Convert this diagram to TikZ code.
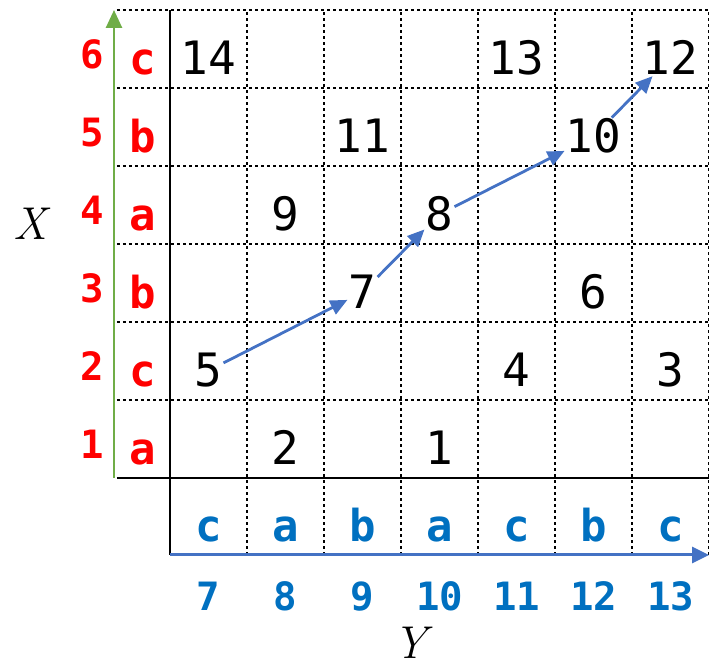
\documentclass[tikz,border=0pt]{standalone}
\usepackage{fontspec}
\usepackage{tikz}
\usetikzlibrary{arrows.meta}
\newfontfamily\gridfont{DejaVu Sans Mono}
\definecolor{axisgreen}{RGB}{112,173,71}
\definecolor{axisblue}{RGB}{68,114,196}
\definecolor{labelblue}{RGB}{0,112,192}

\begin{document}
\begin{tikzpicture}[x=1pt,y=1pt,
  dots/.style={draw=black,line width=2.6pt,dash pattern=on 2.6pt off 3.4pt},
  rule/.style={draw=black,line width=2.4pt},
  num/.style={font=\gridfont\fontsize{46}{46}\selectfont,inner sep=1pt,anchor=base},
  xchar/.style={text=red,font=\gridfont\bfseries\fontsize{44}{44}\selectfont,inner sep=1pt,anchor=base},
  xidx/.style={text=red,font=\gridfont\bfseries\fontsize{39}{39}\selectfont,inner sep=1pt,anchor=base},
  ychar/.style={text=labelblue,font=\gridfont\bfseries\fontsize{44}{44}\selectfont,inner sep=1pt,anchor=base},
  yidx/.style={text=labelblue,font=\gridfont\bfseries\fontsize{39}{39}\selectfont,inner sep=1pt,anchor=base},
  axisname/.style={font=\fontsize{46}{46}\selectfont\itshape,inner sep=1pt,anchor=base},
  hop/.style={draw=axisblue,line width=2.8pt,-{Triangle[length=17pt,width=15pt]}}]
\useasboundingbox (-170,-188) rectangle (539,478);
% grid:
\foreach \k in {1,...,6}
  \path[dots] (-53,78*\k) -- (539,78*\k);
\foreach \k in {1,...,7}
  \path[dots] (77*\k,-77) -- (77*\k,468);
\path[rule] (-53,0) -- (539,0);
\path[rule] (0,-77) -- (0,468);
% axes:
\path[draw=axisgreen,line width=2.6pt,-{Triangle[length=18pt,width=16pt]}] (-56,0) -- (-56,468);
\path[draw=axisblue,line width=3pt,-{Triangle[length=17pt,width=16pt]}] (0,-77) -- (539,-77);
% labels of X:
\foreach \i/\c in {1/a,2/c,3/b,4/a,5/b,6/c}{
  \node[xchar] (x\i) at (-27,78*\i-65) {\c};
  \node[xidx] (i\i) at (-78,78*\i-59) {\i};
}
% labels of Y:
\foreach \j/\c in {7/c,8/a,9/b,10/a,11/c,12/b,13/c}{
  \node[ychar] (y\j) at (77*\j-500.5,-64) {\c};
  \node[yidx] (j\j) at (77*\j-500.5,-132) {\j};
}
\node[axisname] (xname) at (-140,238) {X};
\node[axisname] (yname) at (240,-180) {Y};
% entries:
\foreach \v/\j/\i in {14/7/6,13/11/6,12/13/6,11/9/5,10/12/5,9/8/4,8/10/4,7/9/3,6/12/3,5/7/2,4/11/2,3/13/2,2/8/1,1/10/1}
  \node[num] (n\v) at (77*\j-500.5,78*\i-65) {\v};
% path:
\path[hop] (n5) -- (n7);
\path[hop] (n7) -- (n8);
\path[hop] (n8) -- (n10);
\path[hop] (n10) -- (n12);
\end{tikzpicture}
\end{document}
